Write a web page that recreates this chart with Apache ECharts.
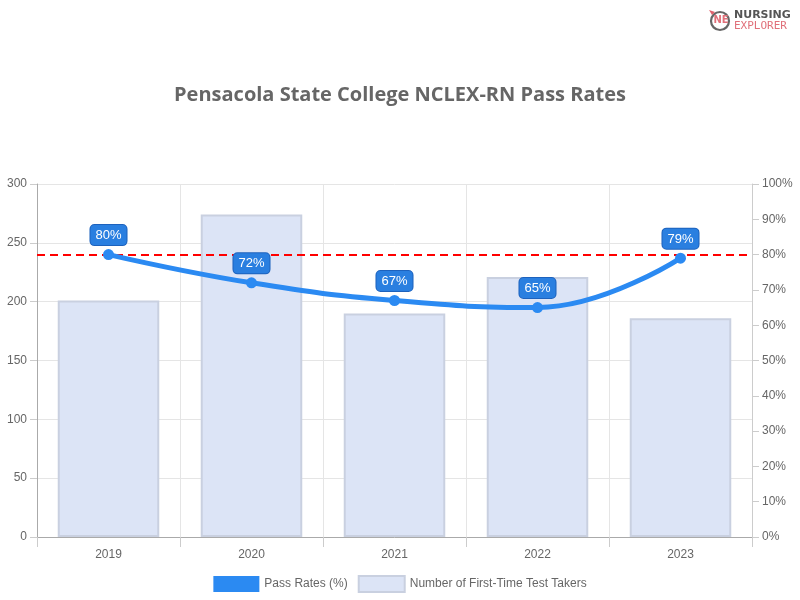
<!DOCTYPE html>
<html>
<head>
<meta charset="utf-8">
<script src="https://cdn.jsdelivr.net/npm/echarts@6/dist/echarts.min.js"></script>
<style>html,body{margin:0;padding:0;background:#fff}#c{width:800px;height:600px}</style>
</head>
<body>
<div id="c"></div>
<script>
const years = ['2019', '2020', '2021', '2022', '2023'];
const passRates = [80, 72, 67, 65, 79];
const testTakers = [201, 274, 190, 221, 186];
const benchmark = 80;
const leftTicks = { min: 0, max: 300, interval: 50 };
const rightTicks = { min: 0, max: 100, interval: 10 };

const chart = echarts.init(document.getElementById('c'));
const font = '"Liberation Sans", Arial, sans-serif';
chart.setOption({
  animation: false,
  textStyle: { fontFamily: font },
  title: {
    text: 'Pensacola State College NCLEX-RN Pass Rates',
    left: 'center', top: 80,
    textStyle: { fontSize: 20, fontWeight: 'bold', color: '#666', fontFamily: '"Open Sans", "Noto Sans", sans-serif' }
  },
  graphic: [
    { type: 'circle', shape: { cx: 720, cy: 21, r: 9 }, style: { fill: '#fff', stroke: '#666', lineWidth: 2.2 }, z: 10 },
    { type: 'polygon', shape: { points: [[709, 10], [715, 12], [712, 15]] }, style: { fill: '#e0606c' }, z: 11 },
    { type: 'text', x: 713.5, y: 15.5, style: { text: 'NE', fill: '#e0707a', font: 'bold 10px "DejaVu Sans"' }, z: 11 },
    { type: 'text', x: 734, y: 10, style: { text: 'NURSING', fill: '#555', font: 'bold 11px "DejaVu Sans"' }, z: 10 },
    { type: 'text', x: 734, y: 21, style: { text: 'EXPLORER', fill: '#e0707a', font: '11px "DejaVu Sans Mono"' }, z: 10 }
  ],
  legend: {
    bottom: 2, left: 'center', itemWidth: 46, itemHeight: 16, itemGap: 10,
    textStyle: { color: '#666', fontSize: 12 },
    data: [
      { name: 'Pass Rates (%)', icon: 'rect', itemStyle: { color: '#2b8af2', borderWidth: 0 } },
      { name: 'Number of First-Time Test Takers', icon: 'rect' }
    ]
  },
  grid: { left: 37, right: 48, top: 184, bottom: 63 },
  xAxis: {
    type: 'category', data: years, boundaryGap: true,
    axisLine: { lineStyle: { color: '#aaa' } },
    axisTick: { show: true, length: 10, lineStyle: { color: '#ccc' } },
    axisLabel: { color: '#666', fontSize: 12, margin: 12 },
    splitLine: { show: true, lineStyle: { color: '#e5e5e5' } }
  },
  yAxis: [
    {
      type: 'value', min: leftTicks.min, max: leftTicks.max, interval: leftTicks.interval,
      axisLine: { show: true, lineStyle: { color: '#aaa' } },
      axisTick: { show: true, length: 7, lineStyle: { color: '#ccc' } },
      axisLabel: { color: '#666', fontSize: 12, margin: 10 },
      splitLine: { show: true, lineStyle: { color: '#e5e5e5' } }
    },
    {
      type: 'value', min: rightTicks.min, max: rightTicks.max, interval: rightTicks.interval,
      position: 'right',
      axisLine: { show: true, lineStyle: { color: '#ccc' } },
      axisTick: { show: true, length: 7, lineStyle: { color: '#ccc' } },
      axisLabel: { color: '#666', fontSize: 12, margin: 10, formatter: '{value}%' },
      splitLine: { show: false }
    }
  ],
  series: [
    {
      name: 'Number of First-Time Test Takers', type: 'bar', yAxisIndex: 0, z: 1,
      data: testTakers, barWidth: '71%',
      itemStyle: { color: '#dce4f6', borderColor: '#c9d0e0', borderWidth: 2 }
    },
    {
      name: 'benchmark', type: 'line', yAxisIndex: 1, z: 2, data: [],
      markLine: {
        z: 2, silent: true, symbol: 'none',
        label: { show: false },
        lineStyle: { color: '#ff0000', type: [8, 5], width: 2 },
        data: [{ yAxis: benchmark }]
      }
    },
    {
      name: 'Pass Rates (%)', type: 'line', yAxisIndex: 1, z: 3,
      data: passRates, smooth: 0.45,
      symbol: 'circle', symbolSize: 11,
      lineStyle: { width: 5, color: '#2b8af2' },
      itemStyle: { color: '#2b8af2' },
      label: {
        show: true, position: 'top', distance: 4, formatter: '{c}%',
        color: '#fff', fontSize: 13,
        backgroundColor: '#2a7fe0', borderColor: '#1d62bd', borderWidth: 1,
        borderRadius: 4, padding: [4, 5, 3, 5]
      }
    }
  ]
});
</script>
</body>
</html>
